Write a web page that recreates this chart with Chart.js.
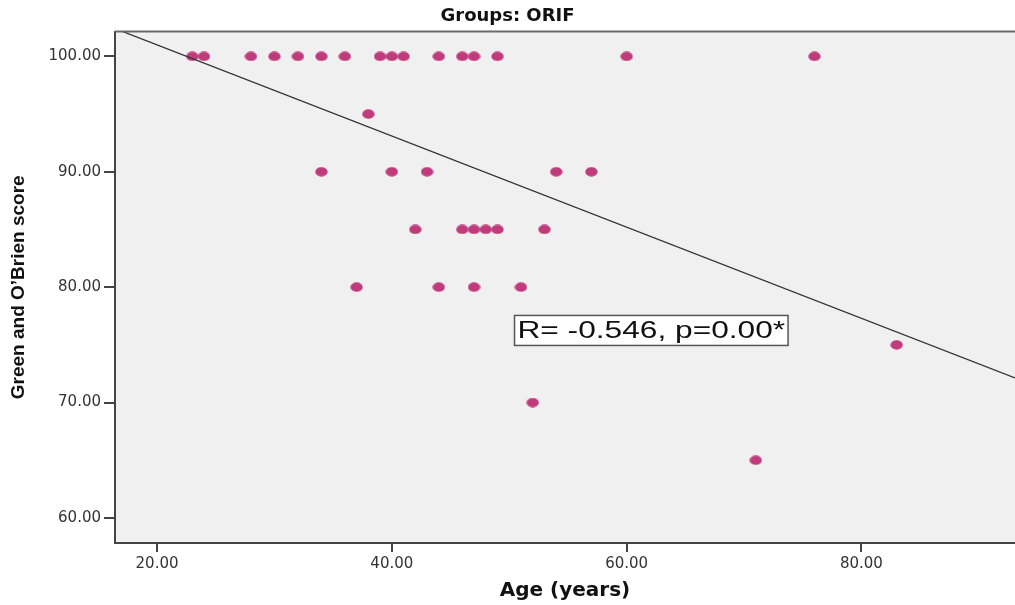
<!DOCTYPE html>
<html><head><meta charset="utf-8">
<script src="https://cdn.jsdelivr.net/npm/chart.js@4.4.0/dist/chart.umd.min.js"></script>
<style>html,body{margin:0;padding:0;background:#fff;}canvas{display:block;}</style>
</head><body>
<canvas id="c" width="1015" height="605"></canvas>
<script>
// ---- data ----
const chartTitle = 'Groups: ORIF';
const xTitle = 'Age (years)';
const yTitle = 'Green and O\u2019Brien score';
const xTicks = [20, 40, 60, 80];
const yTicks = [60, 70, 80, 90, 100];
const xRange = [16.42, 93.08];
const yRange = [57.83, 102.15];
const ages   = [23, 24, 28, 30, 32, 34, 36, 39, 40, 41, 44, 46, 47, 49, 60, 76,
                38,
                34, 40, 43, 54, 57,
                42, 46, 47, 48, 49, 53,
                37, 44, 47, 51,
                83, 52, 71];
const scores = [100, 100, 100, 100, 100, 100, 100, 100, 100, 100, 100, 100, 100, 100, 100, 100,
                95,
                90, 90, 90, 90, 90,
                85, 85, 85, 85, 85, 85,
                80, 80, 80, 80,
                75, 70, 65];
const fitIntercept = 108.9;
const fitSlope = -0.395;
const annotationText = 'R= -0.546, p=0.00*';
const annotationBox = {x0: 50.45, x1: 73.75, y0: 77.55, y1: 74.95};

// ---- build ----
const points = ages.map((a, i) => ({x: a, y: scores[i]}));
const fitLine = [xRange[0], xRange[1]].map(x => ({x: x, y: fitIntercept + fitSlope * x}));

function ellipseStyle(w, h, color) {
  const c = document.createElement('canvas');
  c.width = w; c.height = h;
  const g = c.getContext('2d');
  g.fillStyle = color;
  g.beginPath();
  g.ellipse(w / 2, h / 2, w / 2 - 0.3, h / 2 - 0.3, 0, 0, Math.PI * 2);
  g.fill();
  return c;
}
const dot = ellipseStyle(13, 10, '#bf3b7c');

const decor = {
  id: 'decor',
  beforeDraw(chart) {
    const {ctx, chartArea: a} = chart;
    ctx.save();
    ctx.fillStyle = '#ffffff';
    ctx.fillRect(0, 0, chart.width, chart.height);
    ctx.fillStyle = '#f0f0f0';
    ctx.fillRect(a.left, a.top, a.right - a.left, a.bottom - a.top);
    ctx.restore();
  },
  afterDraw(chart) {
    const {ctx, chartArea: a, scales} = chart;
    ctx.save();
    ctx.strokeStyle = '#6a6a6a';
    ctx.lineWidth = 2;
    ctx.beginPath();
    ctx.moveTo(a.left, a.top);
    ctx.lineTo(a.right, a.top);
    ctx.stroke();
    // annotation
    const x0 = scales.x.getPixelForValue(annotationBox.x0);
    const x1 = scales.x.getPixelForValue(annotationBox.x1);
    const y0 = scales.y.getPixelForValue(annotationBox.y0);
    const y1 = scales.y.getPixelForValue(annotationBox.y1);
    ctx.fillStyle = '#ffffff';
    ctx.fillRect(x0, y0, x1 - x0, y1 - y0);
    ctx.strokeStyle = '#555';
    ctx.lineWidth = 1.5;
    ctx.strokeRect(x0, y0, x1 - x0, y1 - y0);
    ctx.font = '24px "Liberation Sans", Arial, sans-serif';
    ctx.fillStyle = '#111';
    ctx.textBaseline = 'middle';
    ctx.textAlign = 'center';
    const sx = 1.32;
    ctx.translate((x0 + x1) / 2, (y0 + y1) / 2 + 1);
    ctx.scale(sx, 1);
    ctx.fillText(annotationText, 0, 0);
    ctx.restore();
  }
};

new Chart(document.getElementById('c'), {
  type: 'scatter',
  data: {
    datasets: [
      {
        type: 'line',
        data: fitLine,
        borderColor: '#333',
        borderWidth: 1.3,
        pointRadius: 0,
        fill: false,
        clip: 0,
        order: 0
      },
      {
        data: points,
        pointStyle: dot,
        pointRadius: 6,
        backgroundColor: '#bf3b7c',
        borderColor: '#bf3b7c',
        order: 1
      }
    ]
  },
  options: {
    responsive: false,
    animation: false,
    layout: {padding: 0, autoPadding: false},
    plugins: {
      legend: {display: false},
      tooltip: {enabled: false},
      title: {
        display: true,
        text: chartTitle,
        color: '#111',
        font: {family: 'DejaVu Sans', weight: 'bold', size: 18},
        padding: {top: 6, bottom: 4}
      }
    },
    scales: {
      x: {
        type: 'linear',
        min: xRange[0],
        max: xRange[1],
        afterBuildTicks: s => { s.ticks = xTicks.map(v => ({value: v})); },
        afterFit: s => { s.height = 62; s.paddingLeft = 0; s.paddingRight = 0; },
        ticks: {
          callback: v => Number(v).toFixed(2),
          color: '#333',
          font: {family: 'DejaVu Sans', size: 15},
          padding: 3,
          maxRotation: 0,
          autoSkip: false
        },
        grid: {display: true, drawOnChartArea: false, drawTicks: true, tickLength: 9, color: '#444', lineWidth: 2},
        border: {display: true, color: '#444', width: 2},
        title: {
          display: true,
          text: xTitle,
          color: '#111',
          font: {family: 'DejaVu Sans', weight: 'bold', size: 20},
          padding: {top: 0, bottom: 2}
        }
      },
      y: {
        type: 'linear',
        min: yRange[0],
        max: yRange[1],
        afterBuildTicks: s => { s.ticks = yTicks.map(v => ({value: v})); },
        afterFit: s => { s.width = 115; s.paddingTop = 0; s.paddingBottom = 0; },
        ticks: {
          callback: v => Number(v).toFixed(2),
          color: '#333',
          font: {family: 'DejaVu Sans', size: 15},
          padding: 3,
          autoSkip: false
        },
        grid: {display: true, drawOnChartArea: false, drawTicks: true, tickLength: 11, color: '#444', lineWidth: 2},
        border: {display: true, color: '#444', width: 2},
        title: {
          display: true,
          text: yTitle,
          color: '#111',
          font: {family: '"Liberation Sans", Arial, sans-serif', weight: 'bold', size: 19},
          padding: {top: 7, bottom: 0}
        }
      }
    }
  },
  plugins: [decor]
});
</script>
</body></html>
